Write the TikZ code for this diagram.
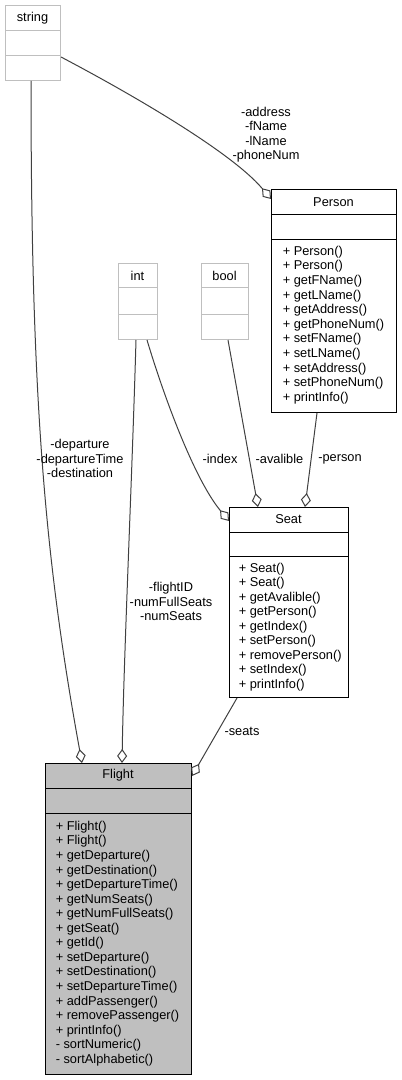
\documentclass[tikz,border=0pt]{standalone}
\usepackage{fontspec}
\setmainfont{Liberation Sans}
\usetikzlibrary{arrows.meta,calc}

\definecolor{edgegray}{HTML}{404040}
\definecolor{fillgray}{HTML}{BFBFBF}
\definecolor{extgray}{HTML}{BFBFBF}

\begin{document}
\begin{tikzpicture}[x=0.75pt,y=-0.75pt,
  font=\fontsize{9.6}{10.9}\selectfont,
  classbox/.style={draw=black,line width=0.75pt,fill=white,anchor=north west,inner sep=0pt},
  extbox/.style={classbox,draw=extgray},
  member/.style={anchor=west,inner sep=0pt},
  lbl/.style={align=center,inner sep=0pt},
  assoc/.style={draw=edgegray,line width=0.75pt,-{Diamond[open,length=10.5pt,width=7.5pt]}}]
  \useasboundingbox (0,0) rectangle (401,1080);
  % external types
  \node[extbox,minimum width=41.25pt,minimum height=56.25pt] (string) at (5,5) {};
  \draw[extgray,line width=0.75pt] (5,31) -- (60,31) (5,56) -- (60,56);
  \node (stringT) at (32.5,18) {string};
  \node[extbox,minimum width=29.25pt,minimum height=57pt] (int) at (118,263) {};
  \draw[extgray,line width=0.75pt] (118,288) -- (157,288) (118,314) -- (157,314);
  \node (intT) at (137.5,276) {int};
  \node[extbox,minimum width=35.25pt,minimum height=57pt] (bool) at (201,263) {};
  \draw[extgray,line width=0.75pt] (201,288) -- (248,288) (201,314) -- (248,314);
  \node (boolT) at (224.5,276) {bool};
  % Person
  \node[classbox,minimum width=93.75pt,minimum height=167.25pt] (person) at (271,189) {};
  \draw[line width=0.75pt] (271,215) -- (396,215) (271,240) -- (396,240);
  \node (personT) at (333.5,202) {Person};
  \foreach \m [count=\i from 0] in {+ Person(),+ Person(),+ getFName(),+ getLName(),+ getAddress(),
    + getPhoneNum(),+ setFName(),+ setLName(),+ setAddress(),+ setPhoneNum(),+ printInfo()}
    \node[member] (personM\i) at (282.5,{252+\i*14.6}) {\m};
  % Seat
  \node[classbox,minimum width=89.25pt,minimum height=142.5pt] (seat) at (229,507) {};
  \draw[line width=0.75pt] (229,532) -- (348,532) (229,556) -- (348,556);
  \node (seatT) at (288.5,519.5) {Seat};
  \foreach \m [count=\i from 0] in {+ Seat(),+ Seat(),+ getAvalible(),+ getPerson(),+ getIndex(),
    + setPerson(),+ removePerson(),+ setIndex(),+ printInfo()}
    \node[member] (seatM\i) at (238.5,{569+\i*14.5}) {\m};
  % Flight
  \node[classbox,fill=fillgray,minimum width=109.5pt,minimum height=233.25pt] (flight) at (45,763) {};
  \draw[line width=0.75pt] (45,788) -- (191,788) (45,813) -- (191,813);
  \node (flightT) at (118,775.5) {Flight};
  \foreach \m [count=\i from 0] in {+ Flight(),+ Flight(),+ getDeparture(),+ getDestination(),
    + getDepartureTime(),+ getNumSeats(),+ getNumFullSeats(),+ getSeat(),+ getId(),
    + setDeparture(),+ setDestination(),+ setDepartureTime(),+ addPassenger(),
    + removePassenger(),+ printInfo(),- sortNumeric(),- sortAlphabetic()}
    \node[member] (flightM\i) at (55.5,{827+\i*14.56}) {\m};
  % associations
  \draw[assoc] ($(string.south west)+(26,0)$) .. controls (31,400) and (45,560) .. ($(flight.north west)+(37,0)$);
  \draw[assoc] ($(int.south west)+(18,0)$) .. controls (132,480) and (124,650) .. ($(flight.north west)+(77,0)$);
  \draw[assoc] ($(string.north east)+(0,52)$) .. controls (120,88) and (230,150) .. ($(person.north west)+(0,10)$);
  \draw[assoc] ($(int.south west)+(29,0)$) .. controls (165,400) and (195,480) .. ($(seat.north west)+(0,14)$);
  \draw[assoc] ($(bool.south west)+(27,0)$) -- ($(seat.north west)+(29,0)$);
  \draw[assoc] ($(person.south west)+(46,0)$) -- ($(seat.north west)+(76,0)$);
  \draw[assoc] ($(seat.south west)+(8,0)$) -- ($(flight.north east)+(0,13)$);
  % labels
  \node[lbl] (depL) at (80,458.5) {-departure\\-departureTime\\-destination};
  \node[lbl] (fidL) at (171,601.5) {-flightID\\-numFullSeats\\-numSeats};
  \node[lbl] (addrL) at (266,134.5) {-address\\-fName\\-lName\\-phoneNum};
  \node[lbl] (idxL) at (220,459) {-index};
  \node[lbl] (avL) at (279.5,459) {-avalible};
  \node[lbl] (perL) at (340,459) {-person};
  \node[lbl] (seatsL) at (242,731) {-seats};
\end{tikzpicture}
\end{document}
